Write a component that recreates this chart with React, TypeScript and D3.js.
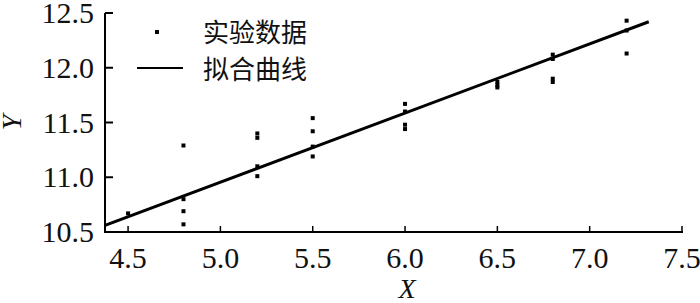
import React from "react";
import * as d3 from "d3";

const xTicks = [4.5, 5.0, 5.5, 6.0, 6.5, 7.0, 7.5];
const yTicks = [10.5, 11.0, 11.5, 12.0, 12.5];

const pointX = [
  4.5,
  4.8, 4.8, 4.8, 4.8,
  5.2, 5.2, 5.2, 5.2,
  5.5, 5.5, 5.5, 5.5,
  6.0, 6.0, 6.0, 6.0,
  6.5, 6.5, 6.5,
  6.8, 6.8, 6.8, 6.8,
  7.2, 7.2, 7.2,
];
const pointY = [
  10.67,
  11.29, 10.8, 10.69, 10.57,
  11.4, 11.36, 11.1, 11.01,
  11.54, 11.42, 11.28, 11.19,
  11.67, 11.6, 11.48, 11.44,
  11.87, 11.84, 11.82,
  12.12, 12.08, 11.9, 11.87,
  12.43, 12.34, 12.13,
];

const fitX = [4.375, 7.32];
const fitY = [10.56, 12.42];

const legendLabels = ["实验数据", "拟合曲线"];

const serif = "'Liberation Serif', 'Times New Roman', Times, serif";
const cjk = "'Noto Sans CJK SC', sans-serif";

export default function App() {
  const W = 700;
  const H = 303;
  const x = d3.scaleLinear().domain([4.375, 7.5]).range([105, 682]);
  const y = d3.scaleLinear().domain([10.5, 12.5]).range([232, 13]);
  const line = d3
    .line<number>()
    .x((d) => x(d))
    .y((_, i) => y(fitY[i]));
  const numStyle: React.CSSProperties = { fontFamily: serif, fontSize: "30px" };
  const labStyle: React.CSSProperties = { fontFamily: serif, fontSize: "28px", fontStyle: "italic" };
  const cjkStyle: React.CSSProperties = { fontFamily: cjk, fontSize: "26px" };
  return (
    <svg
      width={W}
      height={H}
      style={{ position: "absolute", left: 0, top: 0, background: "#fff" }}
    >
      {/* axes */}
      <line x1={x(4.375)} x2={x(4.375)} y1={y(12.5)} y2={y(10.5) + 1} stroke="#000" strokeWidth={2} />
      <line x1={x(4.375) - 1} x2={x(7.5) + 1} y1={y(10.5)} y2={y(10.5)} stroke="#000" strokeWidth={2} />
      {yTicks.map((t) => (
        <g key={"y" + t}>
          <line x1={x(4.375)} x2={x(4.375) + 8} y1={y(t)} y2={y(t)} stroke="#000" strokeWidth={2} />
          <text x={94} y={y(t) + 10} textAnchor="end" style={numStyle} fill="#111">
            {t.toFixed(1)}
          </text>
        </g>
      ))}
      {xTicks.map((t) => (
        <g key={"x" + t}>
          <line x1={x(t)} x2={x(t)} y1={y(10.5)} y2={y(10.5) - 6} stroke="#000" strokeWidth={1.5} />
          <text x={x(t)} y={268} textAnchor="middle" style={numStyle} fill="#111">
            {t.toFixed(1)}
          </text>
        </g>
      ))}
      <text x={x(6.0) + 2} y={298} textAnchor="middle" style={labStyle} fill="#111">
        X
      </text>
      <text
        transform={`translate(21,${y(11.5)}) rotate(-90)`}
        textAnchor="middle"
        style={labStyle}
        fill="#111"
      >
        Y
      </text>

      {/* fitted line */}
      <path d={line(fitX) || ""} fill="none" stroke="#000" strokeWidth={3} />

      {/* points */}
      {pointX.map((px, i) => (
        <rect key={i} x={x(px) - 2} y={y(pointY[i]) - 2} width={4} height={4} fill="#000" />
      ))}

      {/* legend */}
      <rect x={155} y={30} width={4} height={4} fill="#000" />
      <text x={203} y={42} style={cjkStyle} fill="#111">
        {legendLabels[0]}
      </text>
      <line x1={137} x2={183} y1={68} y2={68} stroke="#000" strokeWidth={2} />
      <text x={203} y={79} style={cjkStyle} fill="#111">
        {legendLabels[1]}
      </text>
    </svg>
  );
}
